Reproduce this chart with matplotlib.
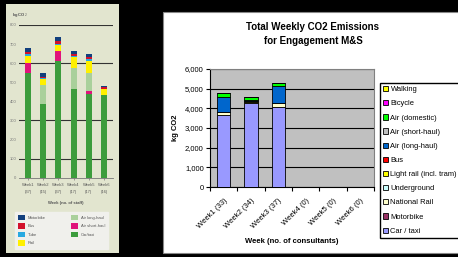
import numpy as np
import matplotlib.pyplot as plt
from matplotlib.patches import Rectangle
from matplotlib.ticker import FuncFormatter, FixedLocator

plt.rcParams['font.family'] = ['Liberation Sans', 'DejaVu Sans']

W, H = 458, 257

# ---- left chart (staff, kg CO2) ----
staff_weeks = ['Week1\n(37)', 'Week2\n(15)', 'Week3\n(37)', 'Week4\n(17)', 'Week5\n(17)', 'Week6\n(16)']
staff_modes = ['Car/taxi', 'Air short-haul', 'Air long-haul', 'Rail', 'Tube', 'Bus', 'Motorbike']
staff_car = [551, 386, 613, 466, 437, 433]
staff_air_short = [52, 0, 52, 0, 17, 0]
staff_air_long = [0, 100, 0, 109, 93, 0]
staff_rail = [37, 30, 30, 56, 66, 30]
staff_tube = [6, 6, 8, 8, 8, 0]
staff_bus = [10, 8, 14, 10, 10, 10]
staff_motorbike = [22, 17, 19, 15, 17, 9]
staff_colors = ['#3c9c3c', '#e0137b', '#a9d09b', '#fff000', '#28a9e1', '#d2112b', '#123f7d']

# ---- right chart (consultants, kg CO2) ----
weeks = ['Week1 (33)', 'Week2 (34)', 'Week3 (37)', 'Week4 (0)', 'Week5 (0)', 'Week6 (0)']
modes = ['Car / taxi', 'Motorbike', 'National Rail', 'Underground', 'Light rail (incl. tram)',
         'Bus', 'Air (long-haul)', 'Air (short-haul)', 'Air (domestic)', 'Bicycle', 'Walking']
car_taxi = [3660, 4250, 4070, 0, 0, 0]
motorbike = [0, 0, 0, 0, 0, 0]
national_rail = [140, 90, 200, 0, 0, 0]
underground = [0, 0, 0, 0, 0, 0]
light_rail = [0, 30, 0, 0, 0, 0]
bus = [0, 0, 0, 0, 0, 0]
air_long = [760, 40, 850, 0, 0, 0]
air_short = [0, 0, 0, 0, 0, 0]
air_domestic = [200, 160, 170, 0, 0, 0]
bicycle = [0, 0, 0, 0, 0, 0]
walking = [0, 0, 0, 0, 0, 0]
colors = ['#9999ff', '#993366', '#ffffcc', '#ccffff', '#ffff00', '#ff0000',
          '#0066cc', '#c0c0c0', '#00ff00', '#ff00ff', '#ffff00']


def box(x0, y0, x1, y1):
    return [x0 / W, 1 - y1 / H, (x1 - x0) / W, (y1 - y0) / H]


def rect(x0, y0, x1, y1, **kw):
    return Rectangle((x0 / W, 1 - y1 / H), (x1 - x0) / W, (y1 - y0) / H,
                     transform=fig.transFigure, zorder=-5, **kw)


fig = plt.figure(figsize=(W / 100, H / 100), dpi=100, facecolor='black')
fig.patches.append(rect(6, 4, 119, 253, facecolor='#e2e5cf', edgecolor='none'))
fig.patches.append(rect(163, 12, 470, 253, facecolor='white', edgecolor='#888888', linewidth=0.8))

# left chart
ax1 = fig.add_axes(box(19, 25, 113, 177.7))
ax1.set_facecolor('none')
series = [staff_car, staff_air_short, staff_air_long, staff_rail, staff_tube, staff_bus, staff_motorbike]
x = np.arange(len(staff_weeks))
bottom = np.zeros(len(x))
for vals, name, c in zip(series, staff_modes, staff_colors):
    ax1.bar(x, vals, 0.4, bottom=bottom, color=c, label=name, zorder=3)
    bottom += np.array(vals)
ax1.set_xlim(-0.6, 5.6)
ax1.set_ylim(0, 800)
ax1.set_yticks(range(0, 801, 100))
for g in [100, 300, 600, 800]:
    ax1.axhline(g, color='#333333', lw=0.8, zorder=1)
for s in ['top', 'right', 'left']:
    ax1.spines[s].set_visible(False)
ax1.spines['bottom'].set_color('#777777')
ax1.spines['bottom'].set_linewidth(0.6)
ax1.tick_params(axis='y', length=0, labelsize=3, labelcolor='#777777', pad=2)
ax1.set_xticks(x)
ax1.set_xticklabels(staff_weeks, fontsize=3, color='#555555', linespacing=1.8)
ax1.tick_params(axis='x', length=1.5, width=0.5, color='#777777', pad=2.5)
ax1.set_xlabel('Week (no. of staff)', fontsize=3, fontweight='bold', color='#555555', labelpad=5)
fig.text(12 / W, 1 - 15 / H, 'kg CO$_2$', fontsize=3, fontweight='bold', color='#555555', va='center')
h1, l1 = ax1.get_legend_handles_labels()
fig.legend(h1[::-1], l1[::-1], ncol=2, loc='upper left', bbox_to_anchor=(15 / W, 1 - 212 / H),
           fontsize=3, frameon=True, fancybox=False, facecolor='#f0f0ec', edgecolor='#f0f0ec',
           framealpha=1, handlelength=1.6, handleheight=1.6, labelspacing=0.75, columnspacing=6,
           borderpad=0.7, borderaxespad=0, labelcolor='#555555')

# right chart
ax = fig.add_axes(box(210, 69, 374, 187))
ax.set_facecolor('#c0c0c0')
series = [car_taxi, motorbike, national_rail, underground, light_rail, bus,
          air_long, air_short, air_domestic, bicycle, walking]
x = np.arange(len(weeks))
bottom = np.zeros(len(x))
for vals, name, c in zip(series, modes, colors):
    ax.bar(x, vals, 0.48, bottom=bottom, color=c, edgecolor='black', linewidth=0.6,
           label=name, zorder=3)
    bottom += np.array(vals)
ax.set_xlim(-0.5, 5.5)
ax.set_ylim(0, 6000)
ax.set_yticks(range(0, 6001, 1000))
ax.yaxis.set_major_formatter(FuncFormatter(lambda v, p: f'{v:,.0f}'))
ax.grid(axis='y', color='black', linewidth=0.8, zorder=1)
ax.spines['top'].set_color('#808080')
ax.spines['right'].set_color('#808080')
ax.spines['left'].set_linewidth(0.8)
ax.spines['bottom'].set_linewidth(0.8)
ax.tick_params(axis='y', labelsize=5.5, length=3, width=0.8, pad=1.5)
ax.set_xticks(x)
ax.set_xticklabels(weeks, rotation=45, ha='right', rotation_mode='anchor', fontsize=5.5)
ax.tick_params(axis='x', which='major', length=0, pad=7)
ax.xaxis.set_minor_locator(FixedLocator(np.arange(-0.5, 6, 1)))
ax.tick_params(axis='x', which='minor', length=3, width=0.8)
ax.set_ylabel('kg CO2', fontsize=5.5, fontweight='bold', labelpad=4)
ax.set_xlabel('Week (no. of consultants)', fontsize=5.5, fontweight='bold', labelpad=6)
fig.text(313 / W, 1 - 34 / H, 'Total Weekly CO2 Emissions\nfor Engagement M&S', ha='center',
         va='center', fontsize=7, fontweight='bold', linespacing=1.5)
h, l = ax.get_legend_handles_labels()
fig.legend(h[::-1], l[::-1], loc='upper left', bbox_to_anchor=(380 / W, 1 - 83 / H),
           fontsize=5.4, frameon=True, fancybox=False, edgecolor='black', framealpha=1,
           handlelength=0.7, handleheight=0.7, handletextpad=0.3, labelspacing=0.92,
           borderpad=0.4, borderaxespad=0)

fig.savefig('out.png', dpi=100, facecolor='black')
